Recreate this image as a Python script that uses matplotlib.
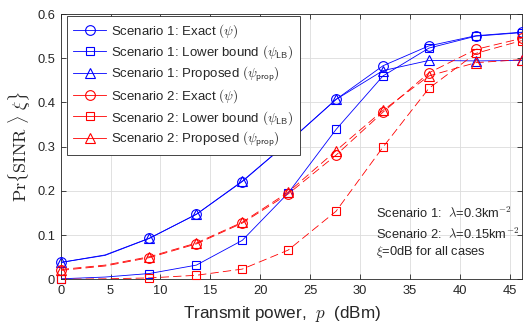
import matplotlib
matplotlib.use("Agg")
import matplotlib.pyplot as plt
from matplotlib.lines import Line2D

plt.rcParams['font.family'] = ['Liberation Sans', 'DejaVu Sans']
plt.rcParams['mathtext.fontset'] = 'cm'
plt.rcParams['lines.scale_dashes'] = False

# marker positions (dBm)
x_mk = [0, 8.9, 13.6, 18.2, 22.8, 27.6, 32.3, 36.9, 41.6, 46.2]
# line positions (markers plus an extra reading at 4.45 dBm)
x_ln = [0, 4.45, 8.9, 13.6, 18.2, 22.8, 27.6, 32.3, 36.9, 41.6, 46.2]

s1_exact = [0.038, 0.0926, 0.147, 0.221, 0.310, 0.407, 0.483, 0.528, 0.551, 0.559]
s1_lb    = [0.001, 0.013, 0.032, 0.088, 0.195, 0.339, 0.460, 0.523, 0.550, 0.558]
s1_prop  = [0.038, 0.093, 0.147, 0.222, 0.310, 0.407, 0.472, 0.495, 0.494, 0.495]
s2_exact = [0.020, 0.049, 0.080, 0.127, 0.193, 0.281, 0.378, 0.467, 0.520, 0.545]
s2_lb    = [0.000, 0.003, 0.009, 0.023, 0.066, 0.154, 0.299, 0.432, 0.511, 0.540]
s2_prop  = [0.022, 0.051, 0.082, 0.129, 0.197, 0.291, 0.382, 0.460, 0.490, 0.497]

s1_exact_ln = [0.038, 0.054, 0.0926, 0.147, 0.221, 0.310, 0.407, 0.483, 0.528, 0.551, 0.559]
s1_lb_ln    = [0.001, 0.005, 0.013, 0.032, 0.088, 0.195, 0.339, 0.460, 0.523, 0.550, 0.558]
s1_prop_ln  = [0.038, 0.055, 0.093, 0.147, 0.222, 0.310, 0.407, 0.472, 0.495, 0.494, 0.495]
s2_exact_ln = [0.020, 0.030, 0.049, 0.080, 0.127, 0.193, 0.281, 0.378, 0.467, 0.520, 0.545]
s2_lb_ln    = [0.000, 0.001, 0.003, 0.009, 0.023, 0.066, 0.154, 0.299, 0.432, 0.511, 0.540]
s2_prop_ln  = [0.022, 0.032, 0.051, 0.082, 0.129, 0.197, 0.291, 0.382, 0.460, 0.490, 0.497]

labels = [r'Scenario 1: Exact $(\psi)$',
          r'Scenario 1: Lower bound $(\psi_{\mathsf{LB}})$',
          r'Scenario 1: Proposed $(\psi_{\mathsf{prop}})$',
          r'Scenario 2: Exact $(\psi)$',
          r'Scenario 2: Lower bound $(\psi_{\mathsf{LB}})$',
          r'Scenario 2: Proposed $(\psi_{\mathsf{prop}})$']

xticks = [0, 5, 10, 15, 20, 25, 30, 35, 40, 45]
yticks = [0, 0.1, 0.2, 0.3, 0.4, 0.5, 0.6]
yticklabels = ['0', '0.1', '0.2', '0.3', '0.4', '0.5', '0.6']

BLUE = '#0000ff'
RED = '#ff0000'
AX = '#262626'

fig = plt.figure(figsize=(5.23, 3.27), dpi=100)
ax = fig.add_axes([0.116, 0.146, 0.8815, 0.811])

series = [
    (s1_exact_ln, s1_exact, BLUE, 'o', 7.0, '-'),
    (s1_lb_ln, s1_lb, BLUE, 's', 6.0, '-'),
    (s1_prop_ln, s1_prop, BLUE, '^', 7.0, '-'),
    (s2_exact_ln, s2_exact, RED, 'o', 7.0, '--'),
    (s2_lb_ln, s2_lb, RED, 's', 6.0, '--'),
    (s2_prop_ln, s2_prop, RED, '^', 7.0, '--'),
]
handles = []
for ln, mk, c, m, ms, ls in series:
    if ls == '--':
        ax.plot(x_ln, ln, color=c, lw=0.6, linestyle=(0, (6, 3)), zorder=3)
    else:
        ax.plot(x_ln, ln, color=c, lw=0.6, linestyle='-', zorder=3)
    ax.plot(x_mk, mk, linestyle='none', marker=m, ms=ms, mfc='none', mec=c,
            mew=0.8, zorder=4, clip_on=False)
    handles.append(Line2D([], [], color=c, lw=0.6, marker=m, ms=ms,
                          mfc='none', mec=c, mew=0.8))

ax.set_xlim(0, 46.2)
ax.set_ylim(0, 0.6)
ax.set_xticks(xticks)
ax.set_yticks(yticks)
ax.set_yticklabels(yticklabels)
ax.grid(True, color='#dcdcdc', lw=0.6)
ax.set_axisbelow(True)
for sp in ax.spines.values():
    sp.set_color(AX)
    sp.set_linewidth(0.6)
ax.tick_params(direction='in', top=True, right=True, length=3.5, width=0.6,
               colors=AX, labelsize=9.3, pad=4)

ax.set_xlabel(r'Transmit power,  $\mathit{p}$  (dBm)', fontsize=12.3, color=AX)
ax.xaxis.set_label_coords(0.48, -0.095)
ax.set_ylabel(r'$\mathrm{Pr}\{\mathrm{SINR}\ \rangle\ \xi\}$', fontsize=13, color=AX, labelpad=3)

leg = ax.legend(handles, labels, loc='upper left', bbox_to_anchor=(0.0143, 0.9925),
                borderaxespad=0, fontsize=9.5, frameon=True, fancybox=False,
                edgecolor=AX, framealpha=1, handlelength=2.5, handletextpad=0.38,
                labelspacing=0.27, borderpad=0.45)
leg.get_frame().set_linewidth(0.6)
for t in leg.get_texts():
    t.set_color(AX)
leg.set_zorder(10)

ax.text(0.684, 0.25, r'Scenario 1:  $\lambda$=0.3km$^{\mathsf{-2}}$', transform=ax.transAxes,
        fontsize=9.3, color=AX, va='center')
ax.text(0.684, 0.17, r'Scenario 2:  $\lambda$=0.15km$^{\mathsf{-2}}$', transform=ax.transAxes,
        fontsize=9.3, color=AX, va='center')
ax.text(0.684, 0.103, r'$\xi$=0dB for all cases', transform=ax.transAxes,
        fontsize=9.3, color=AX, va='center')

fig.savefig('out.png', dpi=100)
